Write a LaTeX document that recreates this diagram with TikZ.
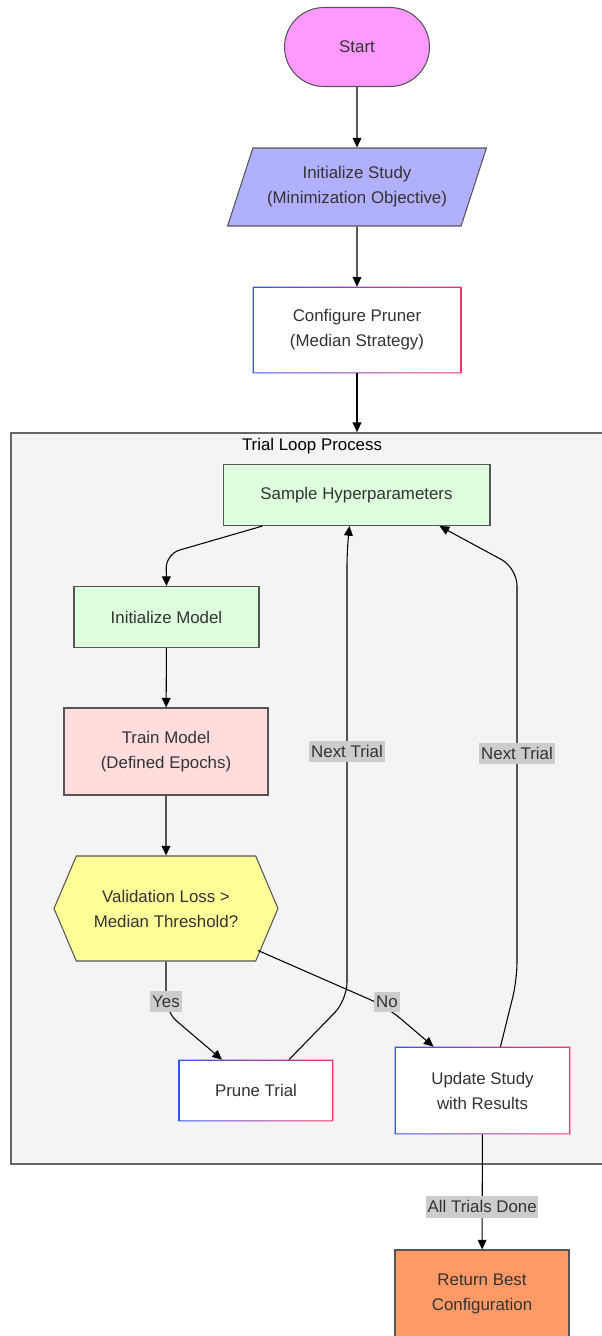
\documentclass[tikz,border=0pt]{standalone}
\usepackage{fontspec}
\setmainfont{Liberation Sans}
\usetikzlibrary{arrows.meta,calc,shapes.geometric,shapes.symbols}
\definecolor{txt}{HTML}{333333}
\definecolor{edge}{HTML}{555555}
\definecolor{startc}{HTML}{FF99FF}
\definecolor{studyc}{HTML}{B0B0FF}
\definecolor{greenc}{HTML}{DDFFDD}
\definecolor{pinkc}{HTML}{FFDDDD}
\definecolor{yellowc}{HTML}{FFFF99}
\definecolor{orangec}{HTML}{FF9966}
\definecolor{gblue}{HTML}{3355FF}
\definecolor{gred}{HTML}{FF3366}
\definecolor{loopc}{HTML}{F4F4F4}
\definecolor{loopb}{HTML}{666666}

\begin{document}
\begin{tikzpicture}[x=0.02cm,y=-0.02cm,
	every node/.style={font=\fontsize{9.6pt}{14.2pt}\selectfont, text=txt, align=center},
	box/.style={draw=edge, line width=0.6pt, minimum width=#1},
	plain/.style={fill=white, minimum width=#1},
	arr/.style={-{Triangle[length=5.5pt,width=5pt]}, line width=0.6pt},
	lbl/.style={fill=gray!40, sharp corners, inner xsep=1pt, inner ysep=2.6pt}]
\useasboundingbox (0,0) rectangle (602,1336);
\clip (0,0) rectangle (602,1336);

\node[draw=loopb, line width=1.1pt, fill=loopc, minimum width=12.02cm, minimum height=14.62cm] (loop) at (311.5,798.5) {};
\node[text=black] (title) at (312,446) {Trial Loop Process};

\node[box=2.9cm, fill=startc, minimum height=1.58cm, rounded corners=0.79cm] (start) at (357,47) {Start};
\node[box=5.18cm, fill=studyc, minimum height=1.56cm, trapezium, trapezium left angle=66, trapezium right angle=114, trapezium stretches=true] (study) at (357,187) {Initialize Study\\(Minimization Objective)};
\node[plain=4.16cm, minimum height=1.72cm] (conf) at (357,330) {Configure Pruner\\(Median Strategy)};

\node[box=5.34cm, fill=greenc, minimum height=1.22cm] (sample) at (356.5,495) {Sample Hyperparameters};
\node[box=3.7cm, fill=greenc, minimum height=1.22cm] (initm) at (166.5,617) {Initialize Model};
\node[box=4.08cm, fill=pinkc, minimum height=1.74cm] (train) at (166,751.5) {Train Model\\(Defined Epochs)};
\node[box=4.48cm, fill=yellowc, minimum height=2.1cm, signal, signal to=east and west, signal pointer angle=134] (valid) at (166,908.5) {Validation Loss \textgreater\\Median Threshold?};
\node[plain=3.08cm, minimum height=1.22cm] (prune) at (256,1090.5) {Prune Trial};
\node[plain=3.5cm, minimum height=1.74cm] (update) at (482.5,1090.5) {Update Study\\with Results};
\node[box=3.48cm, fill=orangec, minimum height=1.74cm] (best) at (482,1293.5) {Return Best\\Configuration};

\foreach \n in {conf,prune,update}
	\shade[left color=gblue, right color=gred, even odd rule] (\n.south west) rectangle (\n.north east) ($(\n.south west)+(1.1,-1.1)$) rectangle ($(\n.north east)+(-1.1,1.1)$);

\draw[arr] (start) -- (study);
\draw[arr] (study) -- (conf);
\draw[arr] (conf) -- (conf.south |- loop.north);
\draw[arr, rounded corners=8pt] ($(sample.south)+(-94,0)$) -- (166,554) -- (initm.north);
\draw[arr] (initm) -- (train);
\draw[arr] (train) -- (valid);
\draw[arr, rounded corners=8pt] (valid.south) -- node[lbl, pos=0.8] {Yes} (166,1012) -- ($(prune.north)+(-34,0)$);
\draw[arr, rounded corners=10pt] ($(valid.center)+(92,42)$) -- (387,1007) -- ($(update.north)+(-49,0)$);
\node[lbl] (nolbl) at (387,1002) {No};
\draw[arr, rounded corners=10pt] ($(prune.north)+(33,0)$) -- (347,1000) -- node[lbl, pos=0.55] {Next Trial} (347,548) -- ($(sample.south)+(-7,0)$);
\draw[arr, rounded corners=10pt] ($(update.north)+(18,0)$) -- (517,980) -- node[lbl, pos=0.55] {Next Trial} (517,568) -- ($(sample.south)+(83,0)$);
\draw[arr] (update) -- node[lbl, pos=0.63] {All Trials Done} (best);
\end{tikzpicture}
\end{document}
